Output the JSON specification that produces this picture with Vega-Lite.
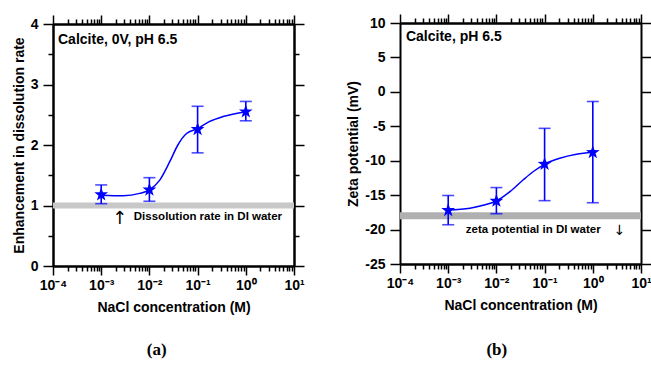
{
  "$schema": "https://vega.github.io/schema/vega-lite/v6.json",
  "width": 651,
  "height": 366,
  "autosize": "none",
  "padding": 0,
  "resolve": {"scale": {"x": "independent", "y": "independent"}, "axis": {"x": "independent", "y": "independent"}},
  "layer": [
    {
      "resolve": {"axis": {"x": "independent", "y": "independent"}},
      "layer": [
        {
          "data": {"values": [{"x0": 0.0001, "x1": 10, "v": 1}]},
          "mark": {"type": "rule", "color": "#c8c8c8", "strokeWidth": 6},
          "encoding": {
            "x": {"field": "x0", "type": "quantitative", "scale": {"type": "log", "domain": [0.0001, 10], "range": [53, 294], "nice": false},
              "axis": {"orient": "bottom", "offset": -100, "title": "NaCl concentration (M)", "tickSize": 9,
                "values": [0.0001, 0.001, 0.01, 0.1, 1, 10],
                "labelExpr": "datum.value==0.0001?'10\u207b\u2074':datum.value==0.001?'10\u207b\u00b3':datum.value==0.01?'10\u207b\u00b2':datum.value==0.1?'10\u207b\u00b9':datum.value==1?'10\u2070':'10\u00b9'",
                "labelPadding": 3, "titlePadding": 8}},
            "x2": {"field": "x1"},
            "y": {"field": "v", "type": "quantitative", "scale": {"domain": [0, 4], "range": [266, 24], "nice": false},
              "axis": {"orient": "left", "offset": -53, "title": "Enhancement in dissolution rate", "values": [0, 1, 2, 3, 4],
                "tickSize": 10, "labelPadding": 5, "titlePadding": 4}}
          }
        },
        {
          "data": {"values": [
            {"c": 0.001, "v": 1.17}, {"c": 0.00285, "v": 1.16}, {"c": 0.0063, "v": 1.2}, {"c": 0.01, "v": 1.26},
            {"c": 0.0164, "v": 1.42}, {"c": 0.0263, "v": 1.72}, {"c": 0.0389, "v": 2.0}, {"c": 0.0589, "v": 2.19},
            {"c": 0.1, "v": 2.27}, {"c": 0.178, "v": 2.39}, {"c": 0.339, "v": 2.47}, {"c": 1, "v": 2.55}
          ]},
          "mark": {"type": "line", "color": "#0000ff", "strokeWidth": 1.5, "interpolate": "monotone"},
          "encoding": {
            "x": {"field": "c", "type": "quantitative", "scale": {"type": "log", "domain": [0.0001, 10], "range": [53, 294], "nice": false},
              "axis": {"orient": "bottom", "offset": -100, "title": null, "labels": false, "tickSize": 5,
                "values": [0.0002, 0.0003, 0.0004, 0.0005, 0.0006, 0.0007, 0.0008, 0.0009, 0.002, 0.003, 0.004, 0.005, 0.006, 0.007, 0.008, 0.009, 0.02, 0.03, 0.04, 0.05, 0.06, 0.07, 0.08, 0.09, 0.2, 0.3, 0.4, 0.5, 0.6, 0.7, 0.8, 0.9, 2, 3, 4, 5, 6, 7, 8, 9]}},
            "y": {"field": "v", "type": "quantitative", "scale": {"domain": [0, 4], "range": [266, 24], "nice": false},
              "axis": {"orient": "left", "offset": -53, "title": null, "labels": false, "tickSize": 5, "values": [0.5, 1.5, 2.5, 3.5]}}
          }
        },
        {
          "data": {"values": [
            {"c": 0.001, "v": 1.18, "lo": 1.03, "hi": 1.34}, {"c": 0.01, "v": 1.26, "lo": 1.07, "hi": 1.46},
            {"c": 0.1, "v": 2.26, "lo": 1.87, "hi": 2.64}, {"c": 1, "v": 2.55, "lo": 2.40, "hi": 2.72}
          ]},
          "mark": {"type": "rule", "color": "#0000ff", "strokeWidth": 1.6},
          "encoding": {
            "x": {"field": "c", "type": "quantitative", "scale": {"type": "log", "domain": [0.0001, 10], "range": [53, 294], "nice": false},
              "axis": {"orient": "top", "offset": -24, "title": null, "labels": false, "tickSize": 9, "values": [0.0001, 0.001, 0.01, 0.1, 1, 10]}},
            "y": {"field": "lo", "type": "quantitative", "scale": {"domain": [0, 4], "range": [266, 24], "nice": false},
              "axis": {"orient": "right", "offset": -357, "title": null, "labels": false, "tickSize": 10, "values": [0, 1, 2, 3, 4]}},
            "y2": {"field": "hi"}
          }
        },
        {
          "data": {"values": [
            {"c": 0.001, "lo": 1.03}, {"c": 0.01, "lo": 1.07}, {"c": 0.1, "lo": 1.87}, {"c": 1, "lo": 2.40},
            {"c": 0.001, "lo": 1.34}, {"c": 0.01, "lo": 1.46}, {"c": 0.1, "lo": 2.64}, {"c": 1, "lo": 2.72}
          ]},
          "mark": {"type": "tick", "orient": "horizontal", "color": "#0000ff", "size": 12, "thickness": 1.6},
          "encoding": {
            "x": {"field": "c", "type": "quantitative", "scale": {"type": "log", "domain": [0.0001, 10], "range": [53, 294], "nice": false},
              "axis": {"orient": "top", "offset": -24, "title": null, "labels": false, "tickSize": 5,
                "values": [0.0002, 0.0003, 0.0004, 0.0005, 0.0006, 0.0007, 0.0008, 0.0009, 0.002, 0.003, 0.004, 0.005, 0.006, 0.007, 0.008, 0.009, 0.02, 0.03, 0.04, 0.05, 0.06, 0.07, 0.08, 0.09, 0.2, 0.3, 0.4, 0.5, 0.6, 0.7, 0.8, 0.9, 2, 3, 4, 5, 6, 7, 8, 9]}},
            "y": {"field": "lo", "type": "quantitative", "scale": {"domain": [0, 4], "range": [266, 24], "nice": false},
              "axis": {"orient": "right", "offset": -357, "title": null, "labels": false, "tickSize": 5, "values": [0.5, 1.5, 2.5, 3.5]}}
          }
        },
        {
          "data": {"values": [
            {"c": 0.001, "v": 1.18}, {"c": 0.01, "v": 1.26}, {"c": 0.1, "v": 2.26}, {"c": 1, "v": 2.55}
          ]},
          "mark": {"type": "point", "shape": "M0,-1L0.235,-0.324L0.951,-0.309L0.38,0.124L0.588,0.809L0,0.4L-0.588,0.809L-0.38,0.124L-0.951,-0.309L-0.235,-0.324Z", "filled": true, "size": 210, "color": "#0000ff", "opacity": 1},
          "encoding": {
            "x": {"field": "c", "type": "quantitative", "scale": {"type": "log", "domain": [0.0001, 10], "range": [53, 294], "nice": false}, "axis": null},
            "y": {"field": "v", "type": "quantitative", "scale": {"domain": [0, 4], "range": [266, 24], "nice": false}, "axis": null}
          }
        },
        {
          "data": {"values": [{"c": 0.000127, "v": 3.735, "t": "Calcite, 0V, pH 6.5"}]},
          "mark": {"type": "text", "align": "left", "baseline": "middle", "font": "Liberation Sans", "fontSize": 14, "fontWeight": "bold", "color": "black"},
          "encoding": {
            "x": {"field": "c", "type": "quantitative", "scale": {"type": "log", "domain": [0.0001, 10], "range": [53, 294], "nice": false}, "axis": null},
            "y": {"field": "v", "type": "quantitative", "scale": {"domain": [0, 4], "range": [266, 24], "nice": false}, "axis": null},
            "text": {"field": "t"}
          }
        },
        {
          "data": {"values": [{"c": 0.00475, "v": 0.81, "t": "Dissolution rate in DI water"}]},
          "mark": {"type": "text", "align": "left", "baseline": "middle", "font": "Liberation Sans", "fontSize": 11.5, "fontWeight": "bold", "color": "black"},
          "encoding": {
            "x": {"field": "c", "type": "quantitative", "scale": {"type": "log", "domain": [0.0001, 10], "range": [53, 294], "nice": false}, "axis": null},
            "y": {"field": "v", "type": "quantitative", "scale": {"domain": [0, 4], "range": [266, 24], "nice": false}, "axis": null},
            "text": {"field": "t"}
          }
        },
        {
          "data": {"values": [{"c": 0.00244, "v": 0.77, "t": "\u2191"}]},
          "mark": {"type": "text", "align": "center", "baseline": "middle", "font": "DejaVu Sans", "fontSize": 18, "color": "black"},
          "encoding": {
            "x": {"field": "c", "type": "quantitative", "scale": {"type": "log", "domain": [0.0001, 10], "range": [53, 294], "nice": false}, "axis": null},
            "y": {"field": "v", "type": "quantitative", "scale": {"domain": [0, 4], "range": [266, 24], "nice": false}, "axis": null},
            "text": {"field": "t"}
          }
        },
        {
          "data": {"values": [{"c": 0.0142, "v": -1.39, "t": "(a)"}]},
          "mark": {"type": "text", "align": "center", "baseline": "middle", "font": "Liberation Serif", "fontSize": 17, "fontWeight": "bold", "color": "black", "clip": false},
          "encoding": {
            "x": {"field": "c", "type": "quantitative", "scale": {"type": "log", "domain": [0.0001, 10], "range": [53, 294], "nice": false}, "axis": null},
            "y": {"field": "v", "type": "quantitative", "scale": {"domain": [0, 4], "range": [266, 24], "nice": false}, "axis": null},
            "text": {"field": "t"}
          }
        }
      ]
    },
    {
      "resolve": {"axis": {"x": "independent", "y": "independent"}},
      "layer": [
        {
          "data": {"values": [{"x0": 0.0001, "x1": 10, "v": -18}]},
          "mark": {"type": "rule", "color": "#b0b0b0", "strokeWidth": 7},
          "encoding": {
            "x": {"field": "x0", "type": "quantitative", "scale": {"type": "log", "domain": [0.0001, 10], "range": [400, 641], "nice": false},
              "axis": {"orient": "bottom", "offset": -102, "title": "NaCl concentration (M)", "tickSize": 9,
                "values": [0.0001, 0.001, 0.01, 0.1, 1, 10],
                "labelExpr": "datum.value==0.0001?'10\u207b\u2074':datum.value==0.001?'10\u207b\u00b3':datum.value==0.01?'10\u207b\u00b2':datum.value==0.1?'10\u207b\u00b9':datum.value==1?'10\u2070':'10\u00b9'",
                "labelPadding": 3, "titlePadding": 8}},
            "x2": {"field": "x1"},
            "y": {"field": "v", "type": "quantitative", "scale": {"domain": [-25, 10], "range": [264, 23], "nice": false},
              "axis": {"orient": "left", "offset": -400, "title": "Zeta potential (mV)", "values": [-25, -20, -15, -10, -5, 0, 5, 10],
                "labelExpr": "'' + datum.value", "tickSize": 10, "labelPadding": 5, "titlePadding": 4}}
          }
        },
        {
          "data": {"values": [
            {"c": 0.001, "v": -17.16}, {"c": 0.00282, "v": -16.91}, {"c": 0.00531, "v": -16.47}, {"c": 0.01, "v": -15.85},
            {"c": 0.0191, "v": -14.5}, {"c": 0.0357, "v": -12.8}, {"c": 0.0575, "v": -11.6}, {"c": 0.1, "v": -10.52},
            {"c": 0.206, "v": -9.65}, {"c": 0.457, "v": -9.07}, {"c": 1, "v": -8.78}
          ]},
          "mark": {"type": "line", "color": "#0000ff", "strokeWidth": 1.5, "interpolate": "monotone"},
          "encoding": {
            "x": {"field": "c", "type": "quantitative", "scale": {"type": "log", "domain": [0.0001, 10], "range": [400, 641], "nice": false},
              "axis": {"orient": "bottom", "offset": -102, "title": null, "labels": false, "tickSize": 5,
                "values": [0.0002, 0.0003, 0.0004, 0.0005, 0.0006, 0.0007, 0.0008, 0.0009, 0.002, 0.003, 0.004, 0.005, 0.006, 0.007, 0.008, 0.009, 0.02, 0.03, 0.04, 0.05, 0.06, 0.07, 0.08, 0.09, 0.2, 0.3, 0.4, 0.5, 0.6, 0.7, 0.8, 0.9, 2, 3, 4, 5, 6, 7, 8, 9]}},
            "y": {"field": "v", "type": "quantitative", "scale": {"domain": [-25, 10], "range": [264, 23], "nice": false},
              "axis": {"orient": "right", "offset": -10, "title": null, "labels": false, "tickSize": 10, "values": [-25, -20, -15, -10, -5, 0, 5, 10]}}
          }
        },
        {
          "data": {"values": [
            {"c": 0.001, "v": -17.2, "lo": -19.3, "hi": -15.05}, {"c": 0.01, "v": -15.85, "lo": -17.7, "hi": -13.9},
            {"c": 0.1, "v": -10.5, "lo": -15.8, "hi": -5.3}, {"c": 1, "v": -8.8, "lo": -16.1, "hi": -1.4}
          ]},
          "mark": {"type": "rule", "color": "#0000ff", "strokeWidth": 1.6},
          "encoding": {
            "x": {"field": "c", "type": "quantitative", "scale": {"type": "log", "domain": [0.0001, 10], "range": [400, 641], "nice": false},
              "axis": {"orient": "top", "offset": -23, "title": null, "labels": false, "tickSize": 9, "values": [0.0001, 0.001, 0.01, 0.1, 1, 10]}},
            "y": {"field": "lo", "type": "quantitative", "scale": {"domain": [-25, 10], "range": [264, 23], "nice": false}, "axis": null},
            "y2": {"field": "hi"}
          }
        },
        {
          "data": {"values": [
            {"c": 0.001, "lo": -19.3}, {"c": 0.01, "lo": -17.7}, {"c": 0.1, "lo": -15.8}, {"c": 1, "lo": -16.1},
            {"c": 0.001, "lo": -15.05}, {"c": 0.01, "lo": -13.9}, {"c": 0.1, "lo": -5.3}, {"c": 1, "lo": -1.4}
          ]},
          "mark": {"type": "tick", "orient": "horizontal", "color": "#0000ff", "size": 12, "thickness": 1.6},
          "encoding": {
            "x": {"field": "c", "type": "quantitative", "scale": {"type": "log", "domain": [0.0001, 10], "range": [400, 641], "nice": false},
              "axis": {"orient": "top", "offset": -23, "title": null, "labels": false, "tickSize": 5,
                "values": [0.0002, 0.0003, 0.0004, 0.0005, 0.0006, 0.0007, 0.0008, 0.0009, 0.002, 0.003, 0.004, 0.005, 0.006, 0.007, 0.008, 0.009, 0.02, 0.03, 0.04, 0.05, 0.06, 0.07, 0.08, 0.09, 0.2, 0.3, 0.4, 0.5, 0.6, 0.7, 0.8, 0.9, 2, 3, 4, 5, 6, 7, 8, 9]}},
            "y": {"field": "lo", "type": "quantitative", "scale": {"domain": [-25, 10], "range": [264, 23], "nice": false}, "axis": null}
          }
        },
        {
          "data": {"values": [
            {"c": 0.001, "v": -17.2}, {"c": 0.01, "v": -15.85}, {"c": 0.1, "v": -10.5}, {"c": 1, "v": -8.8}
          ]},
          "mark": {"type": "point", "shape": "M0,-1L0.235,-0.324L0.951,-0.309L0.38,0.124L0.588,0.809L0,0.4L-0.588,0.809L-0.38,0.124L-0.951,-0.309L-0.235,-0.324Z", "filled": true, "size": 210, "color": "#0000ff", "opacity": 1},
          "encoding": {
            "x": {"field": "c", "type": "quantitative", "scale": {"type": "log", "domain": [0.0001, 10], "range": [400, 641], "nice": false}, "axis": null},
            "y": {"field": "v", "type": "quantitative", "scale": {"domain": [-25, 10], "range": [264, 23], "nice": false}, "axis": null}
          }
        },
        {
          "data": {"values": [{"c": 0.000133, "v": 7.97, "t": "Calcite, pH 6.5"}]},
          "mark": {"type": "text", "align": "left", "baseline": "middle", "font": "Liberation Sans", "fontSize": 14, "fontWeight": "bold", "color": "black"},
          "encoding": {
            "x": {"field": "c", "type": "quantitative", "scale": {"type": "log", "domain": [0.0001, 10], "range": [400, 641], "nice": false}, "axis": null},
            "y": {"field": "v", "type": "quantitative", "scale": {"domain": [-25, 10], "range": [264, 23], "nice": false}, "axis": null},
            "text": {"field": "t"}
          }
        },
        {
          "data": {"values": [{"c": 0.00232, "v": -20.1, "t": "zeta potential in DI water"}]},
          "mark": {"type": "text", "align": "left", "baseline": "middle", "font": "Liberation Sans", "fontSize": 11.5, "fontWeight": "bold", "color": "black"},
          "encoding": {
            "x": {"field": "c", "type": "quantitative", "scale": {"type": "log", "domain": [0.0001, 10], "range": [400, 641], "nice": false}, "axis": null},
            "y": {"field": "v", "type": "quantitative", "scale": {"domain": [-25, 10], "range": [264, 23], "nice": false}, "axis": null},
            "text": {"field": "t"}
          }
        },
        {
          "data": {"values": [{"c": 3.59, "v": -20.25, "t": "\u2193"}]},
          "mark": {"type": "text", "align": "center", "baseline": "middle", "font": "DejaVu Sans", "fontSize": 14, "color": "black"},
          "encoding": {
            "x": {"field": "c", "type": "quantitative", "scale": {"type": "log", "domain": [0.0001, 10], "range": [400, 641], "nice": false}, "axis": null},
            "y": {"field": "v", "type": "quantitative", "scale": {"domain": [-25, 10], "range": [264, 23], "nice": false}, "axis": null},
            "text": {"field": "t"}
          }
        },
        {
          "data": {"values": [{"c": 0.0102, "v": -37.5, "t": "(b)"}]},
          "mark": {"type": "text", "align": "center", "baseline": "middle", "font": "Liberation Serif", "fontSize": 17, "fontWeight": "bold", "color": "black", "clip": false},
          "encoding": {
            "x": {"field": "c", "type": "quantitative", "scale": {"type": "log", "domain": [0.0001, 10], "range": [400, 641], "nice": false}, "axis": null},
            "y": {"field": "v", "type": "quantitative", "scale": {"domain": [-25, 10], "range": [264, 23], "nice": false}, "axis": null},
            "text": {"field": "t"}
          }
        }
      ]
    }
  ],
  "config": {
    "view": {"stroke": null},
    "axis": {
      "grid": false,
      "domainColor": "black",
      "domainWidth": 2,
      "tickColor": "black",
      "tickWidth": 1.5,
      "labelFont": "Liberation Sans",
      "labelFontSize": 14,
      "labelFontWeight": "bold",
      "labelColor": "black",
      "titleFont": "Liberation Sans",
      "titleFontSize": 14,
      "titleFontWeight": "bold",
      "titleColor": "black",
      "labelOverlap": false,
      "labelFlush": false
    }
  }
}
